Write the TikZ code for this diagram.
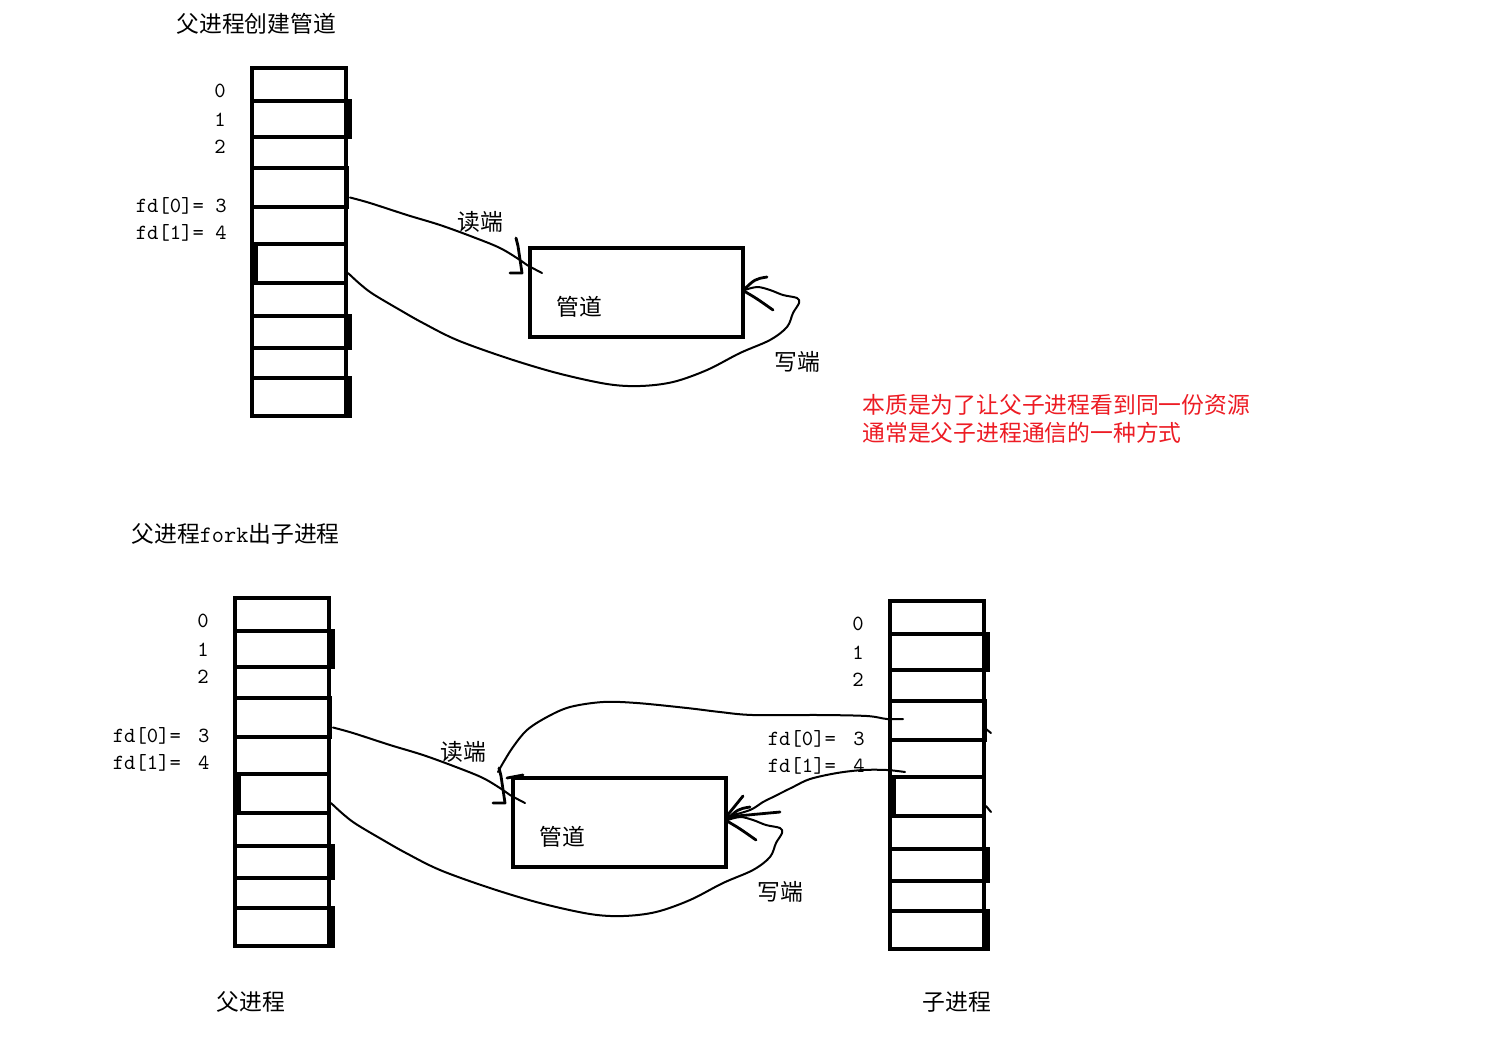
\documentclass[tikz,border=0pt]{standalone}
\usepackage{fontspec}
\newfontfamily\cjk{Noto Sans CJK SC}
\definecolor{notered}{RGB}{237,28,36}
\tikzset{
  rowbox/.style={draw, line width=2pt, inner sep=0pt, outer sep=0pt},
  pipebox/.style={draw, line width=2pt, inner sep=0pt, outer sep=0pt},
  wire/.style={line width=1pt, line cap=round, line join=round},
  tipmark/.style={line width=1.4pt, line cap=round, line join=round},
  lbl/.style={font=\cjk\fontsize{11.4}{13}\selectfont, inner sep=0pt},
  num/.style={font=\ttfamily\fontsize{10.8}{13}\selectfont, inner sep=0pt},
  note/.style={lbl, text=notered}
}
% one row of a descriptor table: name, left, top, right, bottom (pixels)
\newcommand\fdrow[5]{\node[rowbox, minimum width={(#4-#2)*0.5pt}, minimum height={(#5-#3)*0.5pt}] (#1) at ({(#2+#4)/2},{(#3+#5)/2}) {};}
\newcommand\procstack[1]{%
  \fdrow{#1r0}{252}{68}{346}{101}
  \fdrow{#1r1}{252}{101}{346}{137}
  \fdrow{#1r2}{252}{137}{346}{168}
  \fdrow{#1r3}{252}{168}{346}{207}
  \fdrow{#1r4}{252}{207}{346}{244}
  \fdrow{#1r5}{252}{244}{346}{283}
  \fdrow{#1r6}{252}{283}{346}{316}
  \fdrow{#1r7}{252}{316}{346}{348}
  \fdrow{#1r8}{252}{348}{346}{378}
  \fdrow{#1r9}{252}{378}{346}{416}
  % heavier strokes of the hand drawing
  \fill (347,99) rectangle (352,139);
  \fill (347,166) rectangle (349,209);
  \fill (253,244) rectangle (258,285);
  \fill (347,314) rectangle (352,350);
  \fill (347,376) rectangle (352,418);}
\newcommand\stacklabels[2]{%
  \node[num, anchor=base] (#1n0) at (220,97) {0};
  \node[num, anchor=base] (#1n1) at (220,126) {1};
  \node[num, anchor=base] (#1n2) at (220,153) {2};
  \node[num, anchor=base east] (#1f0) at (227,212) {fd[0]=#2\ 3};
  \node[num, anchor=base east] (#1f1) at (227,239) {fd[1]=#2\ 4};}
\newcommand\pipepart[1]{%
  \node[pipebox, minimum width={213*0.5pt}, minimum height={89*0.5pt}] (#1pipe) at (636.5,292.5) {};
  \node[lbl] (#1gd) at (579,307) {管道};
  \node[lbl] (#1rd) at (480,222) {读端};
  \node[lbl] (#1wr) at (797,362) {写端};
  % read end
  \coordinate (#1rs) at ([xshift=2pt,yshift=-5pt]#1r3.east);
  \coordinate (#1re) at (542,273);
  \draw[wire] plot[smooth, tension=0.55] coordinates {(#1rs) (370,203) (407,215) (440,225) (473,237) (500,248) (520,260) (527,265) (#1re)};
  \draw[tipmark] (516,238) -- (518,246) -- (522,273) -- (510,273);
  % write end
  \coordinate (#1ws) at ([xshift=1pt,yshift=-4.75pt]#1r5.east);
  \coordinate (#1wt) at ([yshift=1pt]#1pipe.east);
  \draw[wire] plot[smooth, tension=0.55] coordinates {(#1ws) (360,284) (373,294) (400,310) (423,323) (457,340) (507,358) (557,373) (607,384) (640,386) (673,382) (707,370) (740,353) (770,340) (787,327) (793,313) (799,303) (797,298) (783,295) (770,290) (757,287) (#1wt)};
  \draw[tipmark] (767,277) .. controls (755,279) .. (#1wt) .. controls (756,298) .. (773,310);}
\begin{document}
\begin{tikzpicture}[x=0.5pt, y=-0.5pt]
\useasboundingbox[fill=white] (0,0) rectangle (1499,1041);

% ---------- top: parent creates pipe ----------
\node[lbl, anchor=west] (t1) at (176,24) {父进程创建管道};
\procstack{A}
\stacklabels{A}{}
\pipepart{A}

\node[note, anchor=west] (n1) at (862,404.5) {本质是为了让父子进程看到同一份资源};
\node[note, anchor=west] (n2) at (862,432.5) {通常是父子进程通信的一种方式};

% ---------- bottom: parent forks child ----------
\node[lbl, anchor=west] (t2) at (131,534) {父进程{\ttfamily\fontsize{11.8}{13}\selectfont fork}出子进程};
\begin{scope}[shift={(-17,530)}]
  \procstack{B}
  \stacklabels{B}{\kern3pt}
  \pipepart{B}
\end{scope}
\begin{scope}[shift={(638,533)}]
  \procstack{C}
  \stacklabels{C}{\kern3pt}
\end{scope}

% child read end -> pipe
\coordinate (ca) at (903,719);
\coordinate (cae) at (498,772);
\draw[wire] plot[smooth, tension=0.55] coordinates {(ca) (887,719) (867,716) (820,715) (753,715) (720,712) (687,708) (637,703) (603,702) (570,707) (547,717) (527,730) (513,747) (503,763) (cae)};
\draw[tipmark] (507,778) -- (523,775);

% child write end -> pipe
\coordinate (cb) at (905,772);
\coordinate (cbe) at ([yshift=2.75pt]Bpipe.east);
\draw[wire] plot[smooth, tension=0.55] coordinates {(cb) (887,770) (863,770) (837,773) (810,779) (793,787) (773,797) (763,802) (750,810) (cbe)};
\draw[tipmark] (743,796) -- (cbe) -- (780,812);

% small ticks on child table
\draw[wire] ([xshift=1pt]Cr3.east |- 0,729) -- ++(5,4);
\draw[wire] ([xshift=1pt]Cr5.east |- 0,806) -- ++(5,6);

\node[lbl] (lp) at (251,1002) {父进程};
\node[lbl] (lc) at (957,1002) {子进程};
\end{tikzpicture}
\end{document}
